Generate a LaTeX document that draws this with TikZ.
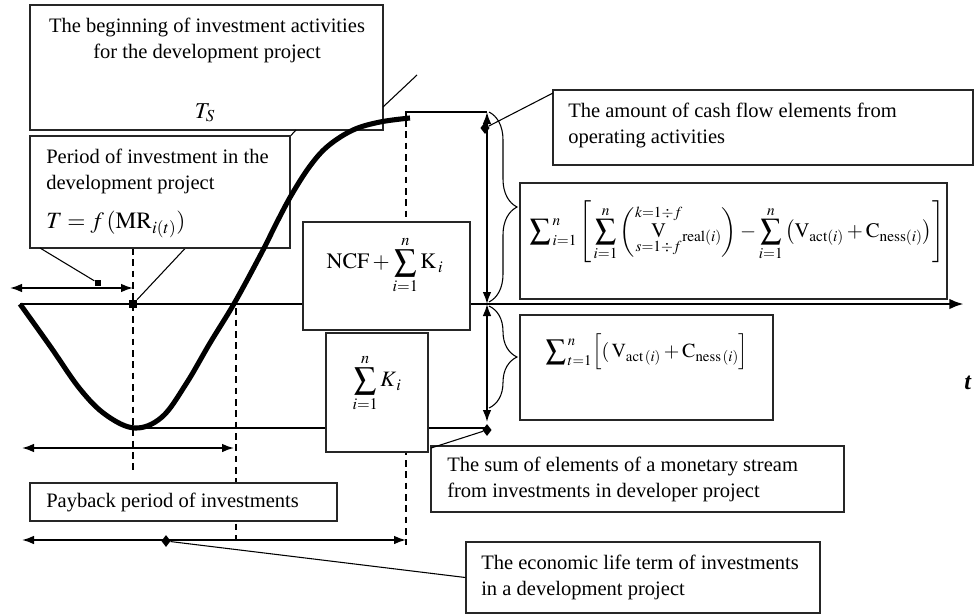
\documentclass[tikz,border=0pt]{standalone}
\usepackage{amsmath}
\usepackage{mathptmx}
\usepackage{fontspec}
\setmainfont{Liberation Serif}
\usetikzlibrary{arrows.meta,fit,shapes.geometric,decorations.pathreplacing}
\begin{document}
\begin{tikzpicture}[x=0.75pt,y=-0.75pt,
  box/.style={draw=black!85, line width=0.9pt, fill=white, inner sep=0pt},
  txt/.style={inner sep=0pt, font=\fontsize{15.4}{19.5}\selectfont},
  thinline/.style={line width=0.8pt},
  dashline/.style={line width=0.8pt, dash pattern=on 5pt off 3.5pt},
  curveline/.style={line width=3.8pt},
  axisline/.style={line width=2.2pt},
  dimline/.style={line width=1.3pt, {Latex[length=9pt,width=6.5pt]}-{Latex[length=9pt,width=6.5pt]}},
  sqmark/.style={fill, minimum size=5pt, inner sep=0pt},
  dmark/.style={diamond, fill, minimum width=7pt, minimum height=9pt, inner sep=0pt},
  bracedeco/.style={line width=0.8pt, decorate, decoration={brace, amplitude=21pt}}
]
\useasboundingbox (0,0) rectangle (974,615);

% axis
\coordinate (ax0) at (20,304);
\coordinate (ax1) at (964,304);
\draw[axisline,-{Latex[length=11pt,width=8pt]}] (ax0) -- (ax1);

% dashed guides
\draw[dashline] (133,248) -- (133,473);
\draw[dashline] (236,297) -- (236,540);
\draw[dashline] (406,120) -- (406,545);

% thin helper lines
\draw[thinline] (406,120) |- (487,112);
\draw[thinline] (135,428) -- (487,428);

% braces
\draw[bracedeco] (489,112) -- (489,302);
\draw[bracedeco] (489,306) -- (489,408);

% vertical double arrows
\coordinate (vtop) at (487,112);
\coordinate (vmid) at (487,304);
\coordinate (vbot) at (487,422);
\draw[dimline] (vmid) -- (vtop);
\draw[dimline] (vmid) -- (vbot);

% horizontal dimension arrows
\coordinate (a1l) at (10,288);  \coordinate (a1r) at (133,288);
\coordinate (a2l) at (22,448);  \coordinate (a2r) at (234,448);
\coordinate (a3l) at (22,540);  \coordinate (a3r) at (406,540);
\draw[dimline] (a1l) -- (a1r);
\draw[dimline] (a2l) -- (a2r);
\draw[dimline] (a3l) -- (a3r);

% markers
\node[sqmark, minimum size=6pt] (tsq) at (133,304) {};
\node[sqmark] (psq) at (98,283) {};
\node[dmark] (d1) at (485,128) {};
\node[dmark] (d2) at (487,430) {};
\node[dmark] (d3) at (166,541) {};

% top box and its pointer
\node[box, fit={(30,5) (383,130)}] (topbox) {};
\coordinate (tsend) at (296,130);
\draw[thinline] (tsq) -- (tsend);
\coordinate (stray0) at (383,107);
\coordinate (stray1) at (417,75);
\draw[thinline] (stray0) -- (stray1);

% period box
\node[box, fit={(30,136) (290,248)}] (perbox) {};
\coordinate (pp1) at (40,248);
\draw[thinline] (pp1) -- (psq);

% formula boxes
\node[box, fit={(303,222) (470,330)}] (ncfbox) {};
\node[box, fit={(326,333) (428,452)}] (kbox) {};
\node[box, fit={(553,90) (973,165)}] (amtbox) {};
\node[box, fit={(520,183) (947,299)}] (bigbox) {};
\node[box, fit={(520,315) (773,420)}] (lowbox) {};
\node[box, fit={(431,446) (844,512)}] (sumbox) {};
\node[box, fit={(30,483) (337,521)}] (paybox) {};
\node[box, fit={(466,542) (820,613)}] (econbox) {};

% pointers from boxes
\coordinate (amtp) at (553,93);
\draw[thinline] (amtp) -- (d1);
\coordinate (sump) at (431,448);
\draw[thinline] (sump) -- (d2);
\draw[thinline] (d3) -- (econbox.west);

% main curve
\draw[curveline] plot[smooth, tension=0.6] coordinates {
  (20,304) (50,346) (80,389) (106,415) (135,428) (162,417) (186,384)
  (210,343) (235,302) (262,252) (277,222) (292,194) (310,166) (328,146)
  (353,130) (380,122) (410,118)};

% texts
\node[txt, align=center] (toptxt) at (207,40) {The beginning of investment activities\\for the development project};
\node[inner sep=0pt, font=\fontsize{17}{20}\selectfont] (tstxt) at (205,113) {$T_S$};
\node[txt, align=left, anchor=west] (pertxt) at (46,171) {Period of investment in the\\development project};
\node[inner sep=0pt, anchor=west, font=\fontsize{17.5}{22}\selectfont] (perf) at (46,224) {$T=f\,(\mathrm{MR}_{i(t)})$};
\node[inner sep=0pt, font=\fontsize{16.5}{22}\selectfont] (ncff) at (385,265) {$\displaystyle\mathrm{NCF}+\sum_{i=1}^{n}\mathrm{K}_{\,i}$};
\node[inner sep=0pt, font=\fontsize{16.5}{22}\selectfont] (kf) at (377,383) {$\displaystyle\sum_{i=1}^{n}K_{\,i}$};
\node[txt, align=left, anchor=west] (amttxt) at (568,125) {The amount of cash flow elements from\\operating activities};
\node[inner sep=0pt, font=\fontsize{15.5}{20}\selectfont] (bigf) at (737,232) {$\displaystyle\sum\nolimits_{\,i=1}^{\,n}\left[\,\sum_{i=1}^{n}\left(\overset{k=1\div f}{\underset{s=1\div f}{\mathrm{V}}}{}_{\mathrm{real}(i)}\right)-\sum_{i=1}^{n}\left(\mathrm{V}_{\mathrm{act}(i)}+\mathrm{C}_{\mathrm{ness}(i)}\right)\right]$};
\node[inner sep=0pt, font=\fontsize{15}{20}\selectfont] (lowf) at (647,352) {$\displaystyle\sum\nolimits_{\,t=1}^{\,n}\Bigl[(\,\mathrm{V}_{\mathrm{act}\,(i)}+\mathrm{C}_{\mathrm{ness}\,(i)}\Bigr]$};
\node[txt, align=left, anchor=west] (sumtxt) at (447,479) {The sum of elements of a monetary stream\\from investments in developer project};
\node[txt, anchor=west] (paytxt) at (46,502) {Payback period of investments};
\node[txt, align=left, anchor=west] (econtxt) at (481,577) {The economic life term of investments\\in a development project};
\node[inner sep=0pt, font=\fontsize{18}{20}\selectfont] (tlab) at (968,383) {\textbf{\textit{t}}};
\end{tikzpicture}
\end{document}
